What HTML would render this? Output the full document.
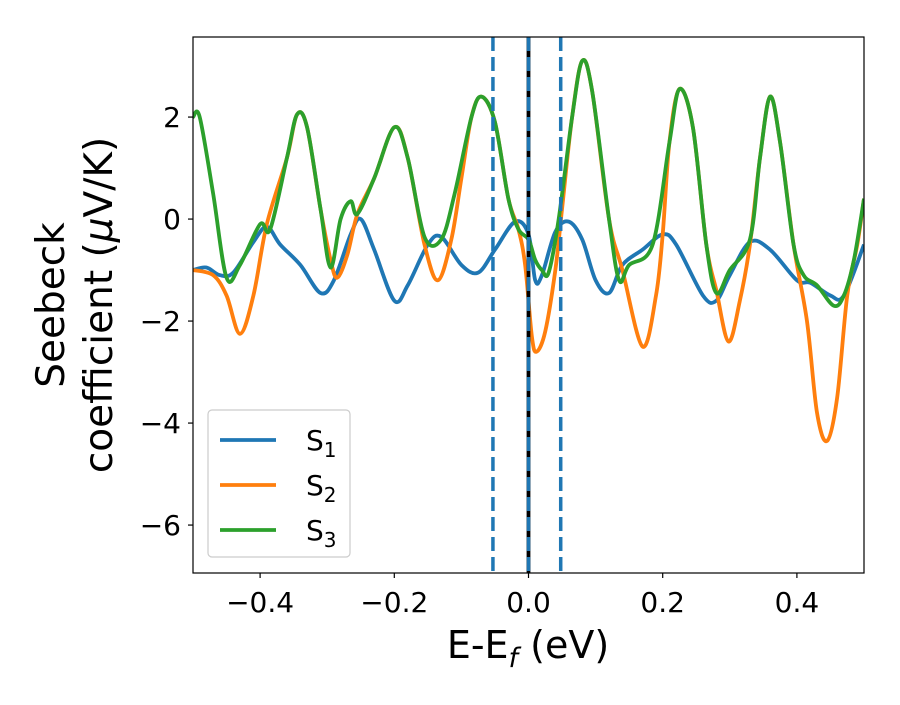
<!DOCTYPE html>
<html><head><meta charset="utf-8"><style>
body{margin:0;background:#fff}
svg text{font-family:"DejaVu Sans","Liberation Sans",sans-serif;fill:#000}
</style></head><body>
<svg id="chart" width="900" height="700"></svg>
<script>
const s1x=[-0.5,-0.48,-0.46,-0.44,-0.41,-0.39,-0.37,-0.34,-0.31,-0.29,-0.265,-0.25,-0.23,-0.2,-0.18,-0.15,-0.13,-0.1,-0.075,-0.05,-0.02,0.0,0.01,0.02,0.04,0.06,0.08,0.1,0.12,0.14,0.17,0.2,0.22,0.26,0.28,0.3,0.33,0.36,0.4,0.42,0.45,0.47,0.5];
const s1y=[-1.0,-0.95,-1.1,-1.05,-0.45,-0.15,-0.5,-0.9,-1.45,-1.2,-0.3,0.0,-0.6,-1.6,-1.3,-0.5,-0.35,-0.9,-1.05,-0.6,-0.05,-0.3,-1.2,-1.1,-0.25,-0.05,-0.4,-1.2,-1.45,-0.9,-0.6,-0.3,-0.5,-1.5,-1.6,-1.1,-0.45,-0.6,-1.2,-1.25,-1.5,-1.5,-0.5];
const s2x=[-0.5,-0.47,-0.45,-0.43,-0.41,-0.39,-0.36,-0.345,-0.33,-0.31,-0.295,-0.285,-0.27,-0.255,-0.23,-0.2,-0.18,-0.155,-0.135,-0.115,-0.1,-0.085,-0.07,-0.05,-0.03,-0.015,-0.005,0.005,0.012,0.025,0.04,0.05,0.065,0.08,0.095,0.12,0.14,0.17,0.19,0.2,0.21,0.225,0.245,0.265,0.28,0.298,0.315,0.33,0.345,0.36,0.375,0.395,0.415,0.43,0.445,0.46,0.475,0.49,0.5];
const s2y=[-1.0,-1.1,-1.5,-2.25,-1.5,-0.1,1.2,2.05,1.8,0.2,-0.8,-1.15,-0.7,0.1,0.8,1.8,1.2,-0.5,-1.2,-0.4,0.8,2.0,2.4,1.9,0.4,-0.2,-0.9,-2.3,-2.6,-2.2,-1.0,0.2,2.0,3.1,2.5,0.0,-1.0,-2.5,-1.5,-0.3,1.5,2.55,1.8,-0.5,-1.4,-2.4,-1.6,-0.5,1.2,2.4,1.5,-0.5,-2.0,-3.8,-4.35,-3.5,-1.5,-0.5,0.4];
const s3x=[-0.5,-0.49,-0.47,-0.45,-0.43,-0.40,-0.385,-0.36,-0.345,-0.33,-0.31,-0.295,-0.28,-0.265,-0.255,-0.23,-0.2,-0.18,-0.155,-0.13,-0.11,-0.085,-0.07,-0.05,-0.03,-0.015,0.0,0.01,0.02,0.03,0.045,0.065,0.08,0.095,0.12,0.135,0.15,0.185,0.21,0.225,0.245,0.265,0.28,0.3,0.33,0.345,0.36,0.375,0.395,0.41,0.43,0.455,0.47,0.485,0.5];
const s3y=[2.0,2.0,0.5,-1.15,-0.9,-0.1,-0.2,1.2,2.05,1.8,0.2,-0.95,0.0,0.35,0.1,0.8,1.8,1.2,-0.35,-0.4,0.5,2.0,2.4,1.9,0.4,-0.2,-0.4,-0.8,-1.0,-1.05,0.0,2.0,3.1,2.5,0.0,-1.2,-0.9,-0.5,1.5,2.55,1.8,-0.5,-1.45,-1.0,-0.4,1.2,2.4,1.5,-0.5,-1.1,-1.3,-1.7,-1.5,-0.8,0.4];
const xTicks=[-0.4,-0.2,0.0,0.2,0.4];
const xTickLabels=["−0.4","−0.2","0.0","0.2","0.4"];
const yTicks=[2,0,-2,-4,-6];
const yTickLabels=["2","0","−2","−4","−6"];
const vLines=[-0.053,0.048];

const L=193,R=864,T=37,B=573;
const xMin=-0.5,xMax=0.5,yMin=-6.94,yMax=3.57;
const X=v=>L+(v-xMin)/(xMax-xMin)*(R-L);
const Y=v=>B-(v-yMin)/(yMax-yMin)*(B-T);
const svg=document.getElementById('chart');
const NS='http://www.w3.org/2000/svg';
function mk(tag,attrs,parent){const e=document.createElementNS(NS,tag);for(const k in attrs)e.setAttribute(k,attrs[k]);(parent||svg).appendChild(e);return e;}
function path(xs,ys){const p=xs.map((x,i)=>[X(x),Y(ys[i])]);let d='M'+p[0][0]+','+p[0][1];
for(let i=0;i<p.length-1;i++){const p0=p[Math.max(0,i-1)],p1=p[i],p2=p[i+1],p3=p[Math.min(p.length-1,i+2)];
const c1=[p1[0]+(p2[0]-p0[0])/6,p1[1]+(p2[1]-p0[1])/6],c2=[p2[0]-(p3[0]-p1[0])/6,p2[1]-(p3[1]-p1[1])/6];
d+=`C${c1[0]},${c1[1]} ${c2[0]},${c2[1]} ${p2[0]},${p2[1]}`;}return d;}
const defs=mk('defs',{});const cp=mk('clipPath',{id:'clip'},defs);mk('rect',{x:L,y:T,width:R-L,height:B-T},cp);
const plot=mk('g',{'clip-path':'url(#clip)'});
let e;
e=mk('path',{d:path(s1x,s1y),fill:'none',stroke:'#1f77b4','stroke-width':3.8},plot);


e=mk('path',{d:path(s2x,s2y),fill:'none',stroke:'#ff7f0e','stroke-width':3.8},plot);


e=mk('path',{d:path(s3x,s3y),fill:'none',stroke:'#2ca02c','stroke-width':3.8},plot);


e=mk('line',{x1:X(0),x2:X(0),y1:T,y2:B,stroke:'#000','stroke-width':3.8},plot);


[vLines[0],0,vLines[1]].forEach(v=>{
e=mk('line',{x1:X(v),x2:X(v),y1:T,y2:B,stroke:'#1f77b4','stroke-width':3.5,'stroke-dasharray':'14,6'},plot);

});
e=mk('rect',{x:L,y:T,width:R-L,height:B-T,fill:'none',stroke:'#000','stroke-width':1.2});


xTicks.forEach((v,i)=>{
mk('line',{x1:X(v),x2:X(v),y1:B,y2:B+5,stroke:'#000','stroke-width':1.2});
e=mk('text',{x:X(v),y:B+39,'text-anchor':'middle','font-size':28});e.textContent=xTickLabels[i];

});
yTicks.forEach((v,i)=>{
mk('line',{x1:L-5,x2:L,y1:Y(v),y2:Y(v),stroke:'#000','stroke-width':1.2});
e=mk('text',{x:L-12,y:Y(v)+10,'text-anchor':'end','font-size':28});e.textContent=yTickLabels[i];

});
e=mk('text',{x:528,y:658,'text-anchor':'middle','font-size':38});
e.innerHTML='E-E<tspan font-style="italic" font-size="27" dy="9">f</tspan><tspan dy="-9"> (eV)</tspan>';


e=mk('text',{transform:'translate(64,305) rotate(-90)','text-anchor':'middle','font-size':39});
e.textContent='Seebeck';


e=mk('text',{transform:'translate(112,305) rotate(-90)','text-anchor':'middle','font-size':39});
e.innerHTML='coefficient  (<tspan font-style="italic">μ</tspan>V/K)';


const lg=mk('g',{});


mk('rect',{x:208,y:410,width:142,height:147,rx:4,fill:'#fff',stroke:'#ccc','stroke-width':1.2},lg);
[['#1f77b4','1'],['#ff7f0e','2'],['#2ca02c','3']].forEach((s,i)=>{const y=440+i*45;
mk('line',{x1:220,x2:276,y1:y,y2:y,stroke:s[0],'stroke-width':3.8},lg);
e=mk('text',{x:306,y:y+10,'font-size':28},lg);e.innerHTML='S<tspan font-size="20" dy="7">'+s[1]+'</tspan>';

});
</script>
</body></html>
